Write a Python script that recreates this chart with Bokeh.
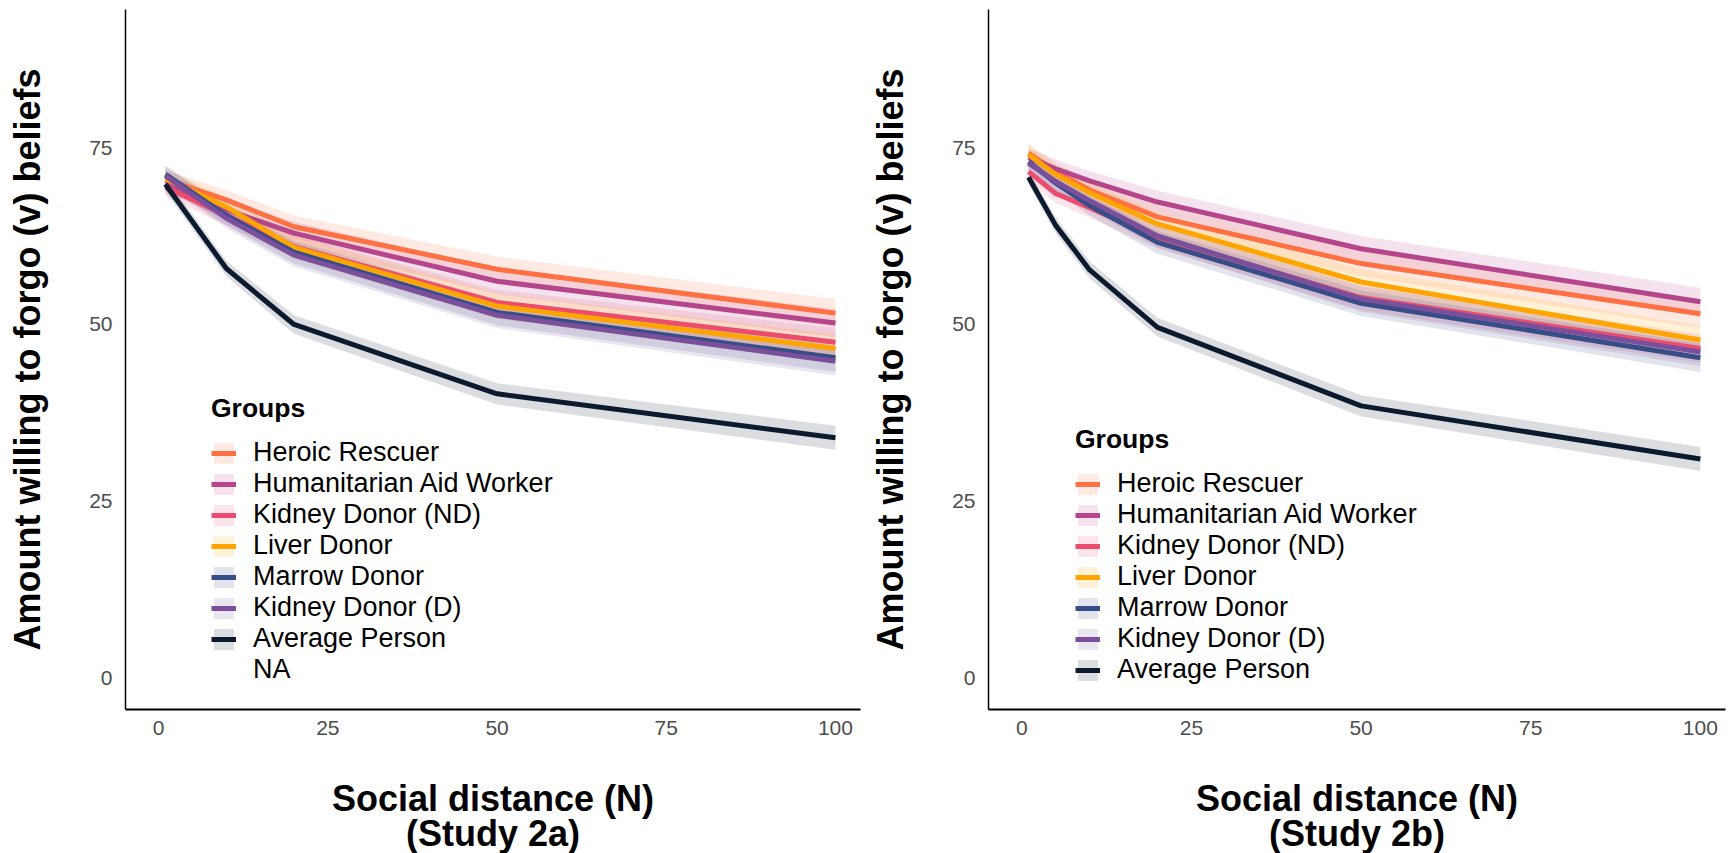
from bokeh.plotting import figure
from bokeh.layouts import row
from bokeh.models import Legend, LegendItem, Range1d
from bokeh.embed import file_html
from bokeh.resources import INLINE

FONT = "Liberation Sans"

GROUPS = [
    "Heroic Rescuer",
    "Humanitarian Aid Worker",
    "Kidney Donor (ND)",
    "Liver Donor",
    "Marrow Donor",
    "Kidney Donor (D)",
    "Average Person",
]
COLORS = ["#ff7043", "#b5468c", "#ec4d6f", "#ffa500", "#374d88", "#7a4f9b", "#0c1a2e"]

X_TICKS = [0, 25, 50, 75, 100]
Y_TICKS = [0, 25, 50, 75]

# Study 2a: social distance levels and mean amount forgone per group
N_2A = [1, 10, 20, 50, 100]
MEAN_2A = {
    "Heroic Rescuer":          [70.5, 67.6, 63.8, 57.8, 51.6],
    "Humanitarian Aid Worker": [70.0, 66.2, 62.9, 56.1, 50.2],
    "Kidney Donor (ND)":       [69.4, 65.4, 61.0, 53.1, 47.5],
    "Liver Donor":             [70.6, 66.6, 60.9, 52.6, 46.6],
    "Marrow Donor":            [71.2, 65.4, 60.2, 51.7, 45.3],
    "Kidney Donor (D)":        [71.0, 65.0, 59.8, 51.3, 44.8],
    "Average Person":          [69.8, 57.9, 50.0, 40.2, 34.0],
}
CI_2A = {
    "Heroic Rescuer":          [1.3, 1.4, 1.6, 1.8, 2.0],
    "Humanitarian Aid Worker": [1.3, 1.4, 1.6, 1.8, 2.0],
    "Kidney Donor (ND)":       [1.3, 1.4, 1.6, 1.8, 2.0],
    "Liver Donor":             [1.3, 1.4, 1.6, 1.8, 2.0],
    "Marrow Donor":            [1.3, 1.4, 1.6, 1.8, 2.0],
    "Kidney Donor (D)":        [1.3, 1.4, 1.6, 1.8, 2.0],
    "Average Person":          [1.0, 1.1, 1.3, 1.5, 1.7],
}

# Study 2b: social distance levels and mean amount forgone per group
N_2B = [1, 5, 10, 20, 50, 100]
MEAN_2B = {
    "Heroic Rescuer":          [74.2, 71.6, 69.0, 65.2, 58.6, 51.5],
    "Humanitarian Aid Worker": [73.6, 72.0, 70.3, 67.3, 60.7, 53.2],
    "Kidney Donor (ND)":       [71.6, 68.5, 66.5, 62.3, 53.8, 46.6],
    "Liver Donor":             [74.0, 71.2, 68.6, 64.2, 56.0, 47.8],
    "Marrow Donor":            [73.0, 70.0, 66.8, 61.6, 53.0, 45.3],
    "Kidney Donor (D)":        [72.8, 70.2, 67.5, 62.5, 53.6, 46.1],
    "Average Person":          [70.8, 64.0, 57.7, 49.6, 38.5, 31.0],
}
CI_2B = {
    "Heroic Rescuer":          [1.3, 1.3, 1.4, 1.6, 1.8, 2.0],
    "Humanitarian Aid Worker": [1.3, 1.3, 1.4, 1.6, 1.8, 2.0],
    "Kidney Donor (ND)":       [1.3, 1.3, 1.4, 1.6, 1.8, 2.0],
    "Liver Donor":             [1.3, 1.3, 1.4, 1.6, 1.8, 2.0],
    "Marrow Donor":            [1.3, 1.3, 1.4, 1.6, 1.8, 2.0],
    "Kidney Donor (D)":        [1.3, 1.3, 1.4, 1.6, 1.8, 2.0],
    "Average Person":          [1.0, 1.1, 1.2, 1.3, 1.5, 1.7],
}


def make_panel(n, means, cis, study, show_na, border_left, frame_width, border_right, legend_xy):
    p = figure(
        output_backend="svg",
        toolbar_location=None,
        frame_width=frame_width,
        frame_height=700,
        min_border_left=border_left,
        min_border_right=border_right,
        min_border_top=9,
        min_border_bottom=144,
        x_range=Range1d(-4.9, 103.7),
        y_range=Range1d(-4.4, 94.5),
        outline_line_color=None,
        background_fill_color="white",
        border_fill_color="white",
    )
    p.grid.visible = False

    # confidence ribbons first, then the mean lines on top
    bands = {}
    for g, c in zip(GROUPS, COLORS):
        lo = [m - e for m, e in zip(means[g], cis[g])]
        hi = [m + e for m, e in zip(means[g], cis[g])]
        bands[g] = p.varea(x=n, y1=lo, y2=hi, fill_color=c, fill_alpha=0.15)
    lines = {}
    for g, c in zip(GROUPS, COLORS):
        lines[g] = p.line(x=n, y=means[g], line_color=c, line_width=5, line_join="round")

    items = [LegendItem(label=g, renderers=[bands[g], lines[g]]) for g in GROUPS]
    if show_na:
        blank = p.line(x=[], y=[], line_alpha=0)
        items.append(LegendItem(label="NA", renderers=[blank]))

    legend = Legend(
        items=items,
        location=legend_xy,
        title="Groups",
        title_text_font=FONT,
        title_text_font_size="26.5px",
        title_text_font_style="bold",
        title_text_color="black",
        title_standoff=13,
        label_text_font=FONT,
        label_text_font_size="27px",
        label_text_color="black",
        label_standoff=17,
        label_height=26,
        glyph_width=25,
        glyph_height=26,
        spacing=0,
        padding=0,
        margin=0,
        background_fill_alpha=0,
        border_line_alpha=0,
    )
    p.add_layout(legend)

    for ax in (p.xaxis[0], p.yaxis[0]):
        ax.axis_line_color = "black"
        ax.major_tick_line_color = None
        ax.minor_tick_line_color = None
        ax.major_label_text_font = FONT
        ax.major_label_text_font_size = "21px"
        ax.major_label_text_color = "#4d4d4d"
        ax.axis_label_text_font = FONT
        ax.axis_label_text_font_size = "36px"
        ax.axis_label_text_font_style = "bold"
        ax.axis_label_text_color = "black"

    p.xaxis.ticker = X_TICKS
    p.yaxis.ticker = Y_TICKS
    p.xaxis.axis_line_width = 2
    p.yaxis.axis_line_width = 1.5
    p.xaxis.major_label_standoff = 5
    p.yaxis.major_label_standoff = 7
    p.xaxis.axis_label = "Social distance (N)\n(" + study + ")"
    p.xaxis.axis_label_text_line_height = 0.86
    p.xaxis.axis_label_standoff = 40
    p.yaxis.axis_label = "Amount willing to forgo (v) beliefs"
    p.yaxis.axis_label_standoff = 38
    return p


left = make_panel(N_2A, MEAN_2A, CI_2A, "Study 2a", True, 125, 735, 7, (86, 24))
right = make_panel(N_2B, MEAN_2B, CI_2B, "Study 2b", False, 121, 737, 9, (87, 24))

layout = row(left, right)
open("out.html", "w").write(file_html(layout, INLINE))
